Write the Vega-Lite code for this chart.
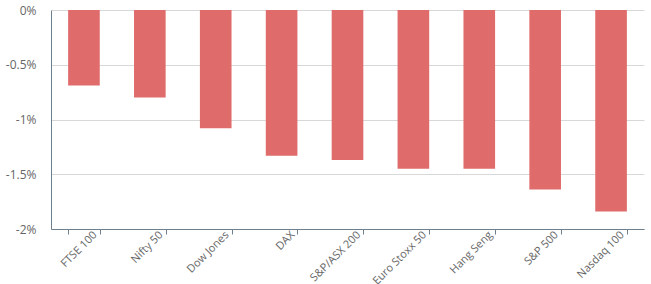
{
  "$schema": "https://vega.github.io/schema/vega-lite/v6.json",
  "width": 593,
  "height": 219,
  "autosize": {"type": "none"},
  "padding": {"left": 51, "top": 10, "right": 7, "bottom": 55},
  "background": "white",
  "config": {"view": {"stroke": null}, "font": "Open Sans"},
  "data": {
    "values": [
      {"index": "FTSE 100", "change": -0.69},
      {"index": "Nifty 50", "change": -0.80},
      {"index": "Dow Jones", "change": -1.08},
      {"index": "DAX", "change": -1.33},
      {"index": "S&P/ASX 200", "change": -1.37},
      {"index": "Euro Stoxx 50", "change": -1.45},
      {"index": "Hang Seng", "change": -1.45},
      {"index": "S&P 500", "change": -1.64},
      {"index": "Nasdaq 100", "change": -1.84}
    ]
  },
  "mark": {"type": "bar", "color": "#e06b6b"},
  "encoding": {
    "x": {
      "field": "index",
      "type": "nominal",
      "sort": null,
      "scale": {"paddingInner": 0.52, "paddingOuter": 0.26},
      "axis": {
        "title": null,
        "labelAngle": -45,
        "labelAlign": "right",
        "labelBaseline": "middle",
        "labelFontSize": 11,
        "labelColor": "#666666",
        "labelPadding": -1,
        "labelOffset": 11,
        "tickBand": "extent",
        "tickColor": "#6e7f8d",
        "tickSize": 5,
        "domainColor": "#6e7f8d",
        "grid": false
      }
    },
    "y": {
      "field": "change",
      "type": "quantitative",
      "scale": {"domain": [-2, 0], "nice": false},
      "axis": {
        "title": null,
        "values": [0, -0.5, -1, -1.5, -2],
        "labelExpr": "datum.value + '%'",
        "labelFontSize": 12,
        "labelColor": "#666666",
        "labelPadding": 15,
        "ticks": false,
        "domainColor": "#6e7f8d",
        "gridColor": "#d8d8d8",
        "grid": true
      }
    }
  }
}
